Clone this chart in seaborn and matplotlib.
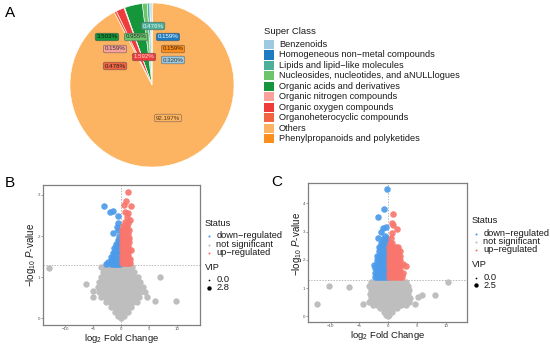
import numpy as np
import pandas as pd
import matplotlib
matplotlib.use("Agg")
import matplotlib.pyplot as plt
import seaborn as sns
from matplotlib.patches import Rectangle

# ---------------- data ----------------
super_classes = ["Benzenoids", "Homogeneous non\u2212metal compounds", "Lipids and lipid\u2212like molecules",
                 "Nucleosides, nucleotides, and aNULLlogues", "Organic acids and derivatives",
                 "Organic nitrogen compounds", "Organic oxygen compounds", "Organoheterocyclic compounds",
                 "Others", "Phenylpropanoids and polyketides"]
class_pct = [0.320, 0.159, 0.476, 0.955, 3.503, 0.159, 1.592, 0.478, 92.197, 0.159]
class_colors = ["#9ECAE1", "#1D7BBF", "#4DAF99", "#6CC46C", "#16963A",
                "#F9A19A", "#EE3B3B", "#F26441", "#FDB462", "#FD8D1C"]

status_levels = ["down\u2212regulated", "not significant", "up\u2212regulated"]
status_colors = ["#4C9BEA", "#BEBEBE", "#F8766D"]

# Panel B
b_up_x = [1.32, 0.9, 0.6, 1.75, 0.66, 1.32, 1.0, 0.78, 1.2, 1.7,
          0.3, 0.7, 1.1,
          0.25, 0.6, 1.0, 1.4,
          0.2, 0.55, 0.9, 1.3,
          0.2, 0.5, 0.85, 1.2, 1.5,
          0.2, 0.5, 0.8, 1.1, 1.4,
          0.15, 0.45, 0.75, 1.05, 1.35,
          0.15, 0.45, 0.75, 1.05, 1.4, 1.85,
          0.15, 0.4, 0.7, 1.0, 1.3,
          0.1, 0.4, 0.7, 1.0, 1.3, 1.6,
          0.1, 0.4, 0.7, 1.0, 1.3, 1.6]
b_up_y = [3.07, 2.84, 2.75, 2.73, 2.59, 2.55, 2.47, 2.35, 2.31, 2.39,
          2.25, 2.25, 2.25,
          2.15, 2.15, 2.15, 2.15,
          2.05, 2.05, 2.05, 2.05,
          1.95, 1.95, 1.95, 1.95, 1.95,
          1.85, 1.85, 1.85, 1.85, 1.85,
          1.75, 1.75, 1.75, 1.75, 1.75,
          1.65, 1.65, 1.65, 1.65, 1.65, 1.65,
          1.55, 1.55, 1.55, 1.55, 1.55,
          1.45, 1.45, 1.45, 1.45, 1.45, 1.45,
          1.35, 1.35, 1.35, 1.35, 1.35, 1.35]
b_down_x = [-3.0, -2.0, -1.5, -0.6, -0.6, -0.66, -0.6, -1.5, -0.4,
            -0.3, -0.6,
            -0.3, -0.6, -0.9,
            -0.25, -0.55, -0.85, -1.2,
            -0.25, -0.55, -0.85, -1.2, -1.5,
            -0.2, -0.5, -0.8, -1.1, -1.4, -1.7,
            -0.2, -0.5, -0.8, -1.1, -1.4, -1.7, -2.3,
            -0.2, -0.5, -0.8, -1.1, -1.4, -1.8, -2.6]
b_down_y = [2.74, 2.58, 2.61, 2.49, 2.32, 2.23, 2.15, 2.08, 2.0,
            1.9, 1.9,
            1.8, 1.8, 1.8,
            1.7, 1.7, 1.7, 1.7,
            1.6, 1.6, 1.6, 1.6, 1.6,
            1.5, 1.5, 1.5, 1.5, 1.5, 1.5,
            1.4, 1.4, 1.4, 1.4, 1.4, 1.4, 1.37,
            1.32, 1.32, 1.32, 1.32, 1.32, 1.32, 1.32]
b_ns_x = [-13.0, -3.5, -2.8, -2.2, -1.6, -1.0, -0.4, 0.2, 0.8, 1.4, 2.0,
          -3.2, -2.6, -2.0, -1.4, -0.8, -0.2, 0.4, 1.0, 1.6, 2.3,
          -3.6, -3.0, -2.4, -1.8, -1.2, -0.6, 0.0, 0.6, 1.2, 1.8, 2.4, 3.0, 7.0,
          -4.0, -3.2, -2.6, -2.0, -1.4, -0.8, -0.2, 0.4, 1.0, 1.6, 2.2, 2.8, 3.4,
          -6.3, -4.2, -3.5, -2.8, -2.2, -1.6, -1.0, -0.4, 0.2, 0.8, 1.4, 2.0, 2.6, 3.3, 4.0,
          -5.1, -4.0, -3.3, -2.6, -2.0, -1.4, -0.8, -0.2, 0.4, 1.0, 1.6, 2.2, 2.8, 3.5, 4.3,
          -5.1, -3.6, -2.9, -2.3, -1.7, -1.1, -0.5, 0.1, 0.7, 1.3, 1.9, 2.5, 3.2, 4.6, 6.1, 9.9,
          -2.6, -2.0, -1.4, -0.8, -0.2, 0.4, 1.0, 1.6, 2.2, 2.8,
          -1.8, -1.2, -0.6, 0.0, 0.6, 1.2, 1.8,
          -1.1, -0.5, 0.1, 0.7, 1.2,
          -0.5, 0.0, 0.5,
          0.0]
b_ns_y = [1.23, 1.24, 1.24, 1.24, 1.24, 1.24, 1.24, 1.24, 1.24, 1.24, 1.24,
          1.12, 1.12, 1.12, 1.12, 1.12, 1.12, 1.12, 1.12, 1.12, 1.12,
          1.0, 1.0, 1.0, 1.0, 1.0, 1.0, 1.0, 1.0, 1.0, 1.0, 1.0, 1.0, 1.01,
          0.88, 0.88, 0.88, 0.88, 0.88, 0.88, 0.88, 0.88, 0.88, 0.88, 0.88, 0.88, 0.88,
          0.83, 0.76, 0.76, 0.76, 0.76, 0.76, 0.76, 0.76, 0.76, 0.76, 0.76, 0.76, 0.76, 0.76, 0.76,
          0.67, 0.64, 0.64, 0.64, 0.64, 0.64, 0.64, 0.64, 0.64, 0.64, 0.64, 0.64, 0.64, 0.64, 0.64,
          0.51, 0.52, 0.52, 0.52, 0.52, 0.52, 0.52, 0.52, 0.52, 0.52, 0.52, 0.52, 0.52, 0.51, 0.42, 0.42,
          0.40, 0.40, 0.40, 0.40, 0.40, 0.40, 0.40, 0.40, 0.40, 0.40,
          0.28, 0.28, 0.28, 0.28, 0.28, 0.28, 0.28,
          0.16, 0.16, 0.16, 0.16, 0.16,
          0.06, 0.06, 0.06,
          0.0]

# Panel C
c_up_x = [0.87, 0.7, 0.87, 1.45, 0.6, 0.4, 0.3, 0.7,
          0.2, 0.55, 0.9, 1.3, 1.7,
          0.2, 0.55, 0.9, 1.3, 1.7, 2.05,
          0.2, 0.55, 0.9, 1.3, 1.7, 2.1,
          0.2, 0.55, 0.9, 1.3, 1.7, 2.1,
          0.2, 0.55, 0.9, 1.3, 1.7, 2.1, 2.5,
          0.2, 0.55, 0.9, 1.3, 1.7, 2.1, 3.07,
          0.2, 0.55, 0.9, 1.3, 1.7, 2.1, 2.6,
          0.2, 0.55, 0.9, 1.3, 1.7, 2.1, 2.4]
c_up_y = [3.63, 3.32, 3.24, 3.08, 2.94, 2.79, 2.6, 2.6,
          2.45, 2.45, 2.45, 2.45, 2.45,
          2.3, 2.3, 2.3, 2.3, 2.3, 2.3,
          2.15, 2.15, 2.15, 2.15, 2.15, 2.15,
          2.0, 2.0, 2.0, 2.0, 2.0, 2.0,
          1.85, 1.85, 1.85, 1.85, 1.85, 1.85, 1.85,
          1.7, 1.7, 1.7, 1.7, 1.7, 1.7, 1.77,
          1.55, 1.55, 1.55, 1.55, 1.55, 1.55, 1.53,
          1.4, 1.4, 1.4, 1.4, 1.4, 1.4, 1.4]
c_down_x = [-0.28, -0.69, -1.73, -0.43, -0.9, -1.18, -1.73, -0.5, -0.3,
            -0.2, -0.55, -0.9,
            -0.2, -0.55, -0.9, -1.3,
            -0.2, -0.55, -0.9, -1.25, -1.6,
            -0.2, -0.55, -0.9, -1.25, -1.6,
            -0.2, -0.55, -0.9, -1.25, -1.6, -1.9,
            -0.2, -0.55, -0.9, -1.25, -1.6, -1.95,
            -0.2, -0.55, -0.9, -1.25, -1.6, -1.95, -2.5,
            -0.2, -0.55, -0.9, -1.25, -1.6, -1.95, -2.3,
            -0.2, -0.55, -0.9, -1.25, -1.6, -1.95, -2.3,
            -0.2, -0.55, -0.9, -1.25, -1.6, -1.95, -2.3]
c_down_y = [4.5, 3.79, 3.51, 3.18, 3.12, 3.0, 2.77, 2.85, 2.7,
            2.74, 2.74, 2.74,
            2.6, 2.6, 2.6, 2.6,
            2.45, 2.45, 2.45, 2.45, 2.45,
            2.3, 2.3, 2.3, 2.3, 2.3,
            2.15, 2.15, 2.15, 2.15, 2.15, 2.15,
            2.0, 2.0, 2.0, 2.0, 2.0, 2.0,
            1.85, 1.85, 1.85, 1.85, 1.85, 1.85, 1.8,
            1.7, 1.7, 1.7, 1.7, 1.7, 1.7, 1.7,
            1.55, 1.55, 1.55, 1.55, 1.55, 1.55, 1.55,
            1.4, 1.4, 1.4, 1.4, 1.4, 1.4, 1.4]
c_ns_x = [-3.0, -2.4, -1.8, -1.2, -0.6, 0.0, 0.6, 1.2, 1.8, 2.4, 3.0, 10.4,
          -10.2, -6.8, -3.3, -2.6, -2.0, -1.4, -0.8, -0.2, 0.4, 1.0, 1.6, 2.2, 2.8, 3.4,
          -3.0, -2.4, -1.8, -1.2, -0.6, 0.0, 0.6, 1.2, 1.8, 2.4, 3.0, 3.6,
          -3.2, -2.6, -2.0, -1.4, -0.8, -0.2, 0.4, 1.0, 1.6, 2.2, 2.8, 3.4,
          -3.0, -2.4, -1.8, -1.2, -0.6, 0.0, 0.6, 1.2, 1.8, 2.4, 3.0, 3.8, 5.1, 5.8, 8.1,
          -3.4, -2.6, -2.0, -1.4, -0.8, -0.2, 0.4, 1.0, 1.6, 2.2, 2.8, 3.6,
          -12.4, -4.3, -2.6, -2.0, -1.4, -0.8, -0.2, 0.4, 1.0, 1.6, 2.2, 3.0, 4.6,
          -1.4, -0.8, -0.2, 0.4, 1.0, 1.5,
          -0.8, -0.3, 0.2, 0.7,
          -0.3, 0.2,
          0.0]
c_ns_y = [1.22, 1.22, 1.22, 1.22, 1.22, 1.22, 1.22, 1.22, 1.22, 1.22, 1.22, 1.2,
          1.09, 1.05, 1.08, 1.08, 1.08, 1.08, 1.08, 1.08, 1.08, 1.08, 1.08, 1.08, 1.08, 1.08,
          0.94, 0.94, 0.94, 0.94, 0.94, 0.94, 0.94, 0.94, 0.94, 0.94, 0.94, 0.94,
          0.80, 0.80, 0.80, 0.80, 0.80, 0.80, 0.80, 0.80, 0.80, 0.80, 0.80, 0.80,
          0.66, 0.66, 0.66, 0.66, 0.66, 0.66, 0.66, 0.66, 0.66, 0.66, 0.66, 0.66, 0.68, 0.74, 0.74,
          0.52, 0.52, 0.52, 0.52, 0.52, 0.52, 0.52, 0.52, 0.52, 0.52, 0.52, 0.52,
          0.43, 0.43, 0.40, 0.40, 0.40, 0.40, 0.40, 0.40, 0.40, 0.40, 0.40, 0.40, 0.43,
          0.28, 0.28, 0.28, 0.28, 0.28, 0.28,
          0.16, 0.16, 0.16, 0.16,
          0.06, 0.06,
          0.0]

# ---------------- setup ----------------
sns.set_theme(style="white")
plt.rcParams['font.family'] = ['Liberation Sans', 'DejaVu Sans']
plt.rcParams['mathtext.fontset'] = 'custom'
plt.rcParams['mathtext.rm'] = 'Liberation Sans'
plt.rcParams['mathtext.it'] = 'Liberation Sans:italic'

W, H = 550, 344
fig = plt.figure(figsize=(W / 100, H / 100), dpi=100)
fig.patch.set_facecolor("white")


def axes_px(l, t, r, b, **kw):
    return fig.add_axes([l / W, 1 - b / H, (r - l) / W, (b - t) / H], **kw)


# ---------------- Panel A: pie ----------------
axp = axes_px(70, 3, 234, 167)
axp.pie(class_pct, colors=class_colors, startangle=90, counterclock=True,
        wedgeprops=dict(edgecolor="white", linewidth=0.4))
axp.set_xlim(-1, 1)
axp.set_ylim(-1, 1)
axp.axis("off")

label_pos_px = [(173, 60), (168, 37), (153, 26), (136, 37), (107, 37),
                (115, 49), (144, 57), (115, 66), (168, 118), (173, 49)]
label_txt_col = ["#333333", "white", "#e8f4f0", "#2a2a2a", "#111111",
                 "#333333", "#ffe0e0", "#222222", "#5a3a10", "#3a2000"]
for i, pct in enumerate(class_pct):
    px, py = label_pos_px[i]
    axp.text((px - 152) / 82, (85 - py) / 82, f"{pct:.3f}%", fontsize=4.4,
             color=label_txt_col[i], ha="center", va="center",
             bbox=dict(boxstyle="round,pad=0.22,rounding_size=0.3", fc=class_colors[i],
                       ec="#555555", lw=0.35))

# ---------------- overlay for legends / text ----------------
ov = fig.add_axes([0, 0, 1, 1], zorder=10)
ov.set_xlim(0, W)
ov.set_ylim(H, 0)
ov.axis("off")
ov.patch.set_alpha(0)

ov.text(10, 13, "A", fontsize=11, ha="center", va="center", color="black")
ov.text(10, 183, "B", fontsize=11, ha="center", va="center", color="black")
ov.text(277, 182, "C", fontsize=11, ha="center", va="center", color="black")

ov.text(264, 31, "Super Class", fontsize=6.8, ha="left", va="center", color="#1a1a1a")
for i, (cat, col) in enumerate(zip(super_classes, class_colors)):
    yc = 44.5 + 10.45 * i
    ov.add_patch(Rectangle((264, yc - 4.6), 10, 9.2, fc=col, ec="none"))
    ov.text(279, yc, cat, fontsize=6.6, ha="left", va="center", color="#1a1a1a")


# ---------------- volcano panels ----------------
def volcano(ax, up_x, up_y, dn_x, dn_y, ns_x, ns_y, xlim, ylim, yticks):
    ns = pd.DataFrame({"x": ns_x, "y": ns_y})
    dn = pd.DataFrame({"x": dn_x, "y": dn_y})
    up = pd.DataFrame({"x": up_x, "y": up_y})
    sns.scatterplot(data=ns, x="x", y="y", ax=ax, color=status_colors[1], s=21,
                    linewidth=0, alpha=1.0, legend=False)
    sns.scatterplot(data=dn, x="x", y="y", ax=ax, color=status_colors[0], s=22,
                    linewidth=0, alpha=0.92, legend=False)
    sns.scatterplot(data=up, x="x", y="y", ax=ax, color=status_colors[2], s=22,
                    linewidth=0, alpha=0.92, legend=False)
    ax.axhline(-np.log10(0.05), color="#9a9a9a", lw=0.5, ls=(0, (2, 2)), zorder=0.5)
    ax.axvline(0, color="#9a9a9a", lw=0.5, ls=(0, (2, 2)), zorder=0.5)
    ax.set_xlim(*xlim)
    ax.set_ylim(*ylim)
    ax.set_xticks([-10, -5, 0, 5, 10])
    ax.set_yticks(yticks)
    ax.set_xlabel("")
    ax.set_ylabel("")
    ax.tick_params(axis="both", labelsize=3.2, labelcolor="#555555", color="#777777",
                   length=1.5, width=0.5, pad=0.3, left=True, bottom=True)
    for sp in ax.spines.values():
        sp.set_color("#7f7f7f")
        sp.set_linewidth(0.9)
    ax.set_facecolor("white")


axB = axes_px(43, 185, 200, 325)
volcano(axB, b_up_x, b_up_y, b_down_x, b_down_y, b_ns_x, b_ns_y,
        (-14.0, 14.2), (-0.16, 3.24), [0, 1, 2, 3])
axC = axes_px(308, 183, 466.7, 321.7)
volcano(axC, c_up_x, c_up_y, c_down_x, c_down_y, c_ns_x, c_ns_y,
        (-13.9, 13.6), (-0.19, 4.72), [0, 1, 2, 3, 4])

ylab = r"$-$log$_{10}$ $P$-value"
xlab = r"log$_{2}$ Fold Change"
ov.text(30.5, 255, ylab, fontsize=7, rotation=90, ha="center", va="center", color="#1a1a1a")
ov.text(122, 338.4, xlab, fontsize=6.8, ha="center", va="center", color="#1a1a1a")
ov.text(296.5, 244, ylab, fontsize=7, rotation=90, ha="center", va="center", color="#1a1a1a")
ov.text(388, 336, xlab, fontsize=6.8, ha="center", va="center", color="#1a1a1a")


def status_legend(x0, ys, vip_max):
    ov.text(x0, ys[0], "Status", fontsize=6.7, ha="left", va="center", color="#1a1a1a")
    for k in range(3):
        ov.scatter([x0 + 4.5], [ys[1 + k]], s=2.2, color=status_colors[k], linewidths=0)
        ov.text(x0 + 11.5, ys[1 + k], status_levels[k], fontsize=6.7, ha="left",
                va="center", color="#1a1a1a")
    ov.text(x0, ys[4], "VIP", fontsize=6.7, ha="left", va="center", color="#1a1a1a")
    ov.scatter([x0 + 4.5], [ys[5]], s=1.5, color="black", linewidths=0)
    ov.scatter([x0 + 4.5], [ys[6]], s=10, color="black", linewidths=0)
    ov.text(x0 + 11.5, ys[5], "0.0", fontsize=6.7, ha="left", va="center", color="#1a1a1a")
    ov.text(x0 + 11.5, ys[6], f"{vip_max:.1f}", fontsize=6.7, ha="left", va="center",
            color="#1a1a1a")


status_legend(204.7, [223, 236, 244.5, 252.7, 268, 280, 288], 2.8)
status_legend(471.7, [220.5, 233.7, 242, 249.8, 264.3, 277.5, 285.3], 2.5)

fig.savefig("out.png", dpi=100, facecolor="white")
